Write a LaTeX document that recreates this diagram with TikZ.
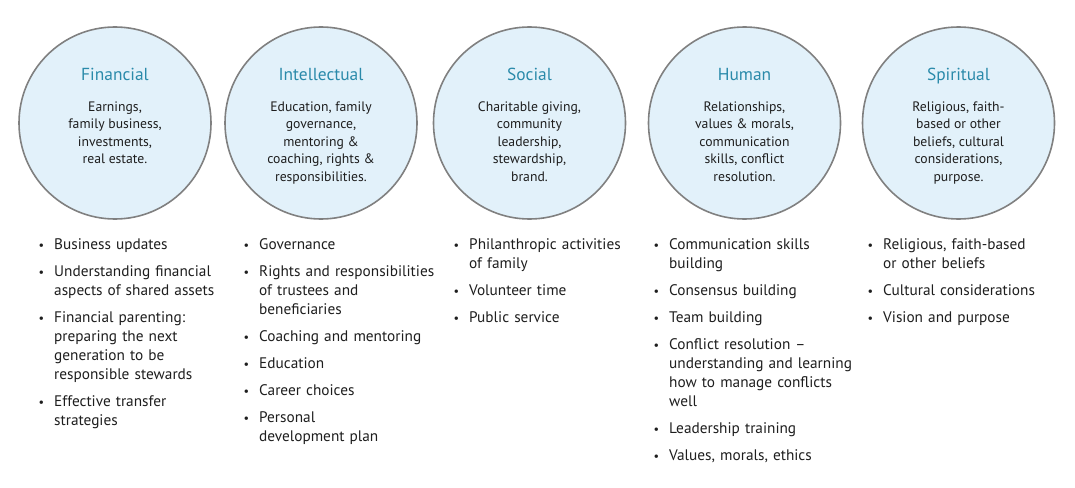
\documentclass[tikz,border=0pt]{standalone}
\usepackage{fontspec}
\setmainfont{PT Sans}
\usepackage{enumitem}
\definecolor{titleteal}{HTML}{2A8AAA}
\definecolor{circfill}{HTML}{E2F1FA}
\definecolor{circline}{HTML}{808080}
\definecolor{txt}{HTML}{1E1E1E}
\setlist[itemize]{nosep, leftmargin=16pt, labelsep=10pt, labelwidth=6pt, itemsep=8pt, label={\raisebox{0.1ex}{\scalebox{0.8}{\textbullet}}}}
\begin{document}
\begin{tikzpicture}[x=1pt,y=-1pt,
  circ/.style={circle, draw=circline, line width=1.6pt, fill=circfill, minimum size=192pt, inner sep=0pt},
  ttl/.style={anchor=base, text=titleteal, font=\fontsize{17.4}{20}\selectfont, inner sep=0pt},
  body/.style={anchor=north, align=center, text=txt, font=\fontsize{13.7}{17.5}\selectfont, inner sep=0pt},
  col/.style={anchor=north west, text width=205pt, align=left, text=txt, font=\fontsize{15.3}{19}\selectfont, inner sep=0pt},
]
\useasboundingbox (0,0) rectangle (1075,487);

% circles
\node[circ] (c1) at (115,123) {};
\node[circ] (c2) at (321,123) {};
\node[circ] (c3) at (529.5,123) {};
\node[circ] (c4) at (744.5,123) {};
\node[circ] (c5) at (958.5,123) {};

% titles
\node[ttl] (t1) at (115,81) {Financial};
\node[ttl] (t2) at (321,81) {Intellectual};
\node[ttl] (t3) at (529.5,81) {Social};
\node[ttl] (t4) at (744.5,81) {Human};
\node[ttl] (t5) at (958.5,81) {Spiritual};

% circle bodies
\node[body] (b1) at (115,98.8) {\strut Earnings,\\family business,\\investments,\\real estate.};
\node[body] (b2) at (321,98.8) {\strut Education, family\\governance,\\mentoring \&\\coaching, rights \&\\responsibilities.};
\node[body] (b3) at (529.5,98.8) {\strut Charitable giving,\\community\\leadership,\\stewardship,\\brand.};
\node[body] (b4) at (744.5,98.8) {\strut Relationships,\\values \& morals,\\communication\\skills, conflict\\resolution.};
\node[body] (b5) at (958.5,98.8) {\strut Religious, faith-\\based or other\\beliefs, cultural\\considerations,\\purpose.};

% bullet lists
\node[col] (l1) at (38,230.7) {\begin{itemize}
\item\strut Business updates
\item Understanding financial\newline aspects of shared assets
\item Financial parenting:\newline preparing the next\newline generation to be\newline responsible stewards
\item Effective transfer\newline strategies
\end{itemize}};
\node[col] (l2) at (243,230.7) {\begin{itemize}
\item\strut Governance
\item Rights and responsibilities\newline of trustees and\newline beneficiaries
\item Coaching and mentoring
\item Education
\item Career choices
\item Personal\newline development plan
\end{itemize}};
\node[col] (l3) at (453,230.7) {\begin{itemize}
\item\strut Philanthropic activities\newline of family
\item Volunteer time
\item Public service
\end{itemize}};
\node[col] (l4) at (653,230.7) {\begin{itemize}
\item\strut Communication skills\newline building
\item Consensus building
\item Team building
\item Conflict resolution –\newline understanding and learning\newline how to manage conflicts\newline well
\item Leadership training
\item Values, morals, ethics
\end{itemize}};
\node[col] (l5) at (867,230.7) {\begin{itemize}
\item\strut Religious, faith-based\newline or other beliefs
\item Cultural considerations
\item Vision and purpose
\end{itemize}};
\end{tikzpicture}
\end{document}
